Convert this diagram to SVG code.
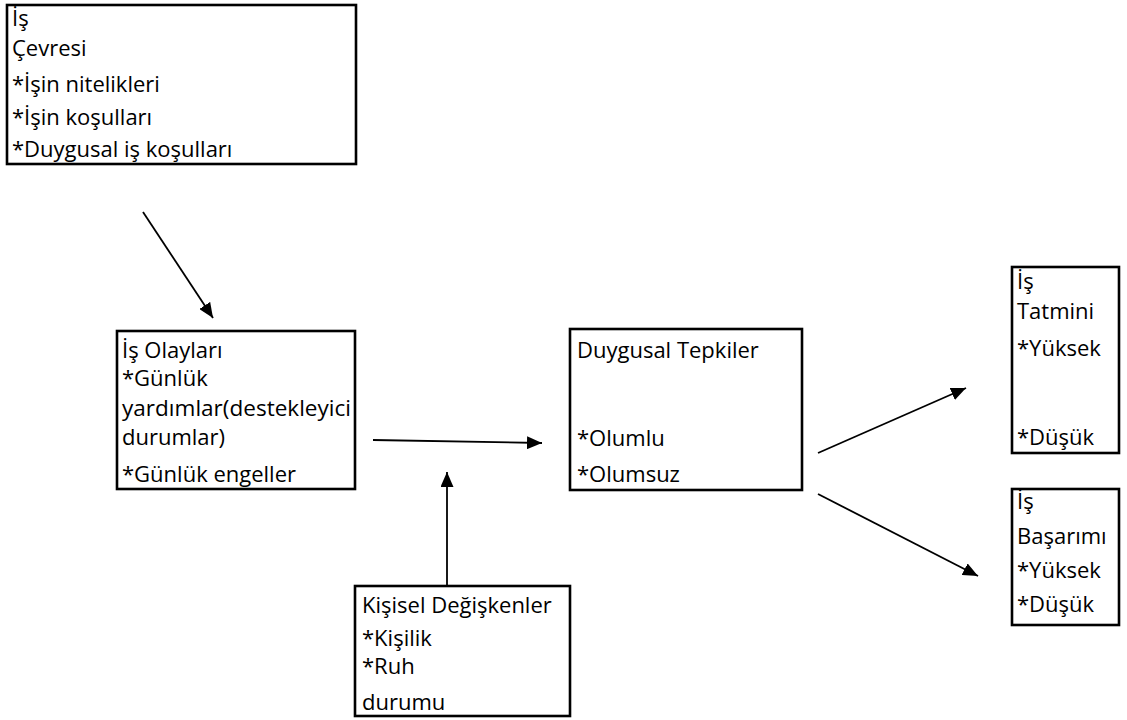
<svg xmlns="http://www.w3.org/2000/svg" width="1127" height="720" viewBox="0 0 1127 720">
<style>
.box{fill:#fff;stroke:#000;stroke-width:2.6}
.t{font-family:"Open Sans","Liberation Sans",sans-serif;font-size:22px;fill:#000}
.c{stroke:#000;stroke-width:1.8;fill:none}
</style>
<defs>
<marker id="ah" viewBox="0 0 10 10" refX="10" refY="5" markerWidth="15" markerHeight="13" markerUnits="userSpaceOnUse" orient="auto" preserveAspectRatio="none">
<path d="M0,0 L10,5 L0,10 z" fill="#000"/>
</marker>
</defs>
<rect width="1127" height="720" fill="#fff"/>
<g id="n-is-cevresi">
<rect class="box" x="7" y="5" width="349" height="159"/>
<text class="t" x="12" y="26">İş</text>
<text class="t" x="12" y="56">Çevresi</text>
<text class="t" x="12" y="92">*İşin nitelikleri</text>
<text class="t" x="12" y="125">*İşin koşulları</text>
<text class="t" x="12" y="157">*Duygusal iş koşulları</text>
</g>
<g id="n-is-olaylari">
<rect class="box" x="117" y="331" width="238" height="158"/>
<text class="t" x="122" y="358">İş Olayları</text>
<text class="t" x="122" y="386">*Günlük</text>
<text class="t" x="122" y="416" textLength="229" lengthAdjust="spacingAndGlyphs">yardımlar(destekleyici</text>
<text class="t" x="122" y="445">durumlar)</text>
<text class="t" x="122" y="482">*Günlük engeller</text>
</g>
<g id="n-duygusal">
<rect class="box" x="570" y="329" width="232" height="161"/>
<text class="t" x="577" y="358">Duygusal Tepkiler</text>
<text class="t" x="577" y="446">*Olumlu</text>
<text class="t" x="577" y="482">*Olumsuz</text>
</g>
<g id="n-tatmin">
<rect class="box" x="1012" y="267" width="107" height="186"/>
<text class="t" x="1017" y="289">İş</text>
<text class="t" x="1017" y="319">Tatmini</text>
<text class="t" x="1017" y="356">*Yüksek</text>
<text class="t" x="1017" y="445">*Düşük</text>
</g>
<g id="n-basarim">
<rect class="box" x="1012" y="489" width="107" height="136"/>
<text class="t" x="1017" y="509">İş</text>
<text class="t" x="1017" y="544">Başarımı</text>
<text class="t" x="1017" y="578">*Yüksek</text>
<text class="t" x="1017" y="612">*Düşük</text>
</g>
<g id="n-kisisel">
<rect class="box" x="355" y="586" width="215" height="130"/>
<text class="t" x="362" y="613">Kişisel Değişkenler</text>
<text class="t" x="362" y="646">*Kişilik</text>
<text class="t" x="362" y="674">*Ruh</text>
<text class="t" x="362" y="710">durumu</text>
</g>
<g id="connectors">
<line class="c" x1="143" y1="212" x2="213" y2="318" marker-end="url(#ah)"/>
<line class="c" x1="373" y1="440" x2="542" y2="443" marker-end="url(#ah)"/>
<line class="c" x1="447" y1="585" x2="447" y2="472" marker-end="url(#ah)"/>
<line class="c" x1="818" y1="453" x2="966" y2="388" marker-end="url(#ah)"/>
<line class="c" x1="818" y1="494" x2="978" y2="576" marker-end="url(#ah)"/>
</g>
</svg>
